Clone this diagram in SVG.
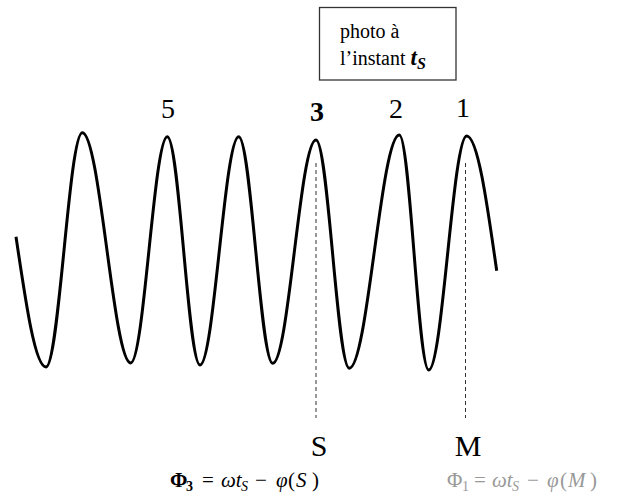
<svg xmlns="http://www.w3.org/2000/svg" width="624" height="500" viewBox="0 0 624 500">
<style>
.serif{font-family:"Liberation Serif","Times New Roman",serif;fill:#000}
.wave{fill:none;stroke:#000;stroke-width:3;stroke-linejoin:round;stroke-linecap:butt}
.dash{fill:none;stroke:#333;stroke-width:1;stroke-dasharray:4 3}
.lab{font-size:28px;text-anchor:middle}
.pt{font-size:30px;text-anchor:middle}
.box{font-size:20px}
.eq{font-size:21px}
.sub{font-size:14px}
.it{font-style:italic}
.bd{font-weight:bold}
.gray{fill:#999}
</style>
<rect width="624" height="500" fill="#fff"/>
<g id="photo-box">
<rect x="319.5" y="7.5" width="136.5" height="72.5" fill="#fff" stroke="#333" stroke-width="1.3"/>
<text class="serif box" x="340" y="38">photo à</text>
<text class="serif box" x="340" y="65">l’instant <tspan class="it bd" font-size="23">t</tspan><tspan class="it bd" font-size="16" dy="4">S</tspan></text>
</g>
<g id="wave">
<path class="wave" d="M16,236.7 C25.8,303 35.1,367 46,367 C59,367 69,132.7 82.3,132.7 C99.9,132.7 113.5,363 130.7,363 C144,363 154,136.7 167.3,136.7 C179.3,136.7 188,365 200,365 C214,365 224.6,136.7 238.7,136.7 C251,136.7 260.3,363.3 272.7,363.3 C288.7,363.3 300,140 316,140 C328.2,140 337.1,368.3 349.3,368.3 C367.5,368.3 381.1,135 399.3,135 C410,135 418,370 428.7,370 C442.5,370 452.9,136 466.7,136 C477.6,136 486.9,202 496.7,270.7"/>
</g>
<g id="connectors">
<line class="dash" x1="316" y1="163" x2="316" y2="418"/>
<line class="dash" x1="465.5" y1="163" x2="465.5" y2="418"/>
</g>
<g id="labels">
<text class="serif lab" x="168" y="118">5</text>
<text class="serif lab bd" x="317" y="121">3</text>
<text class="serif lab" x="396" y="118">2</text>
<text class="serif lab" x="463" y="117">1</text>
</g>
<g id="point-S">
<text class="serif pt" x="319" y="456">S</text>
<text class="serif eq" y="487"><tspan class="bd" x="170">Φ</tspan><tspan class="sub bd" x="186" dy="4">3</tspan><tspan x="202" dy="-4">=</tspan><tspan class="it" x="221">ωt</tspan><tspan class="sub it" x="241" dy="4">S</tspan><tspan x="255" dy="-4">−</tspan><tspan class="it" x="276">φ</tspan><tspan x="288">(</tspan><tspan class="it" x="296">S</tspan><tspan x="312">)</tspan></text>
</g>
<g id="point-M">
<text class="serif pt" x="468" y="456">M</text>
<text class="serif eq gray" y="487"><tspan x="447">Φ</tspan><tspan class="sub" x="462" dy="4">1</tspan><tspan x="474" dy="-4">=</tspan><tspan class="it" x="492">ωt</tspan><tspan class="sub it" x="512" dy="4">S</tspan><tspan x="527" dy="-4">−</tspan><tspan class="it" x="547">φ</tspan><tspan x="560">(</tspan><tspan class="it" x="568">M</tspan><tspan x="590">)</tspan></text>
</g>
</svg>
